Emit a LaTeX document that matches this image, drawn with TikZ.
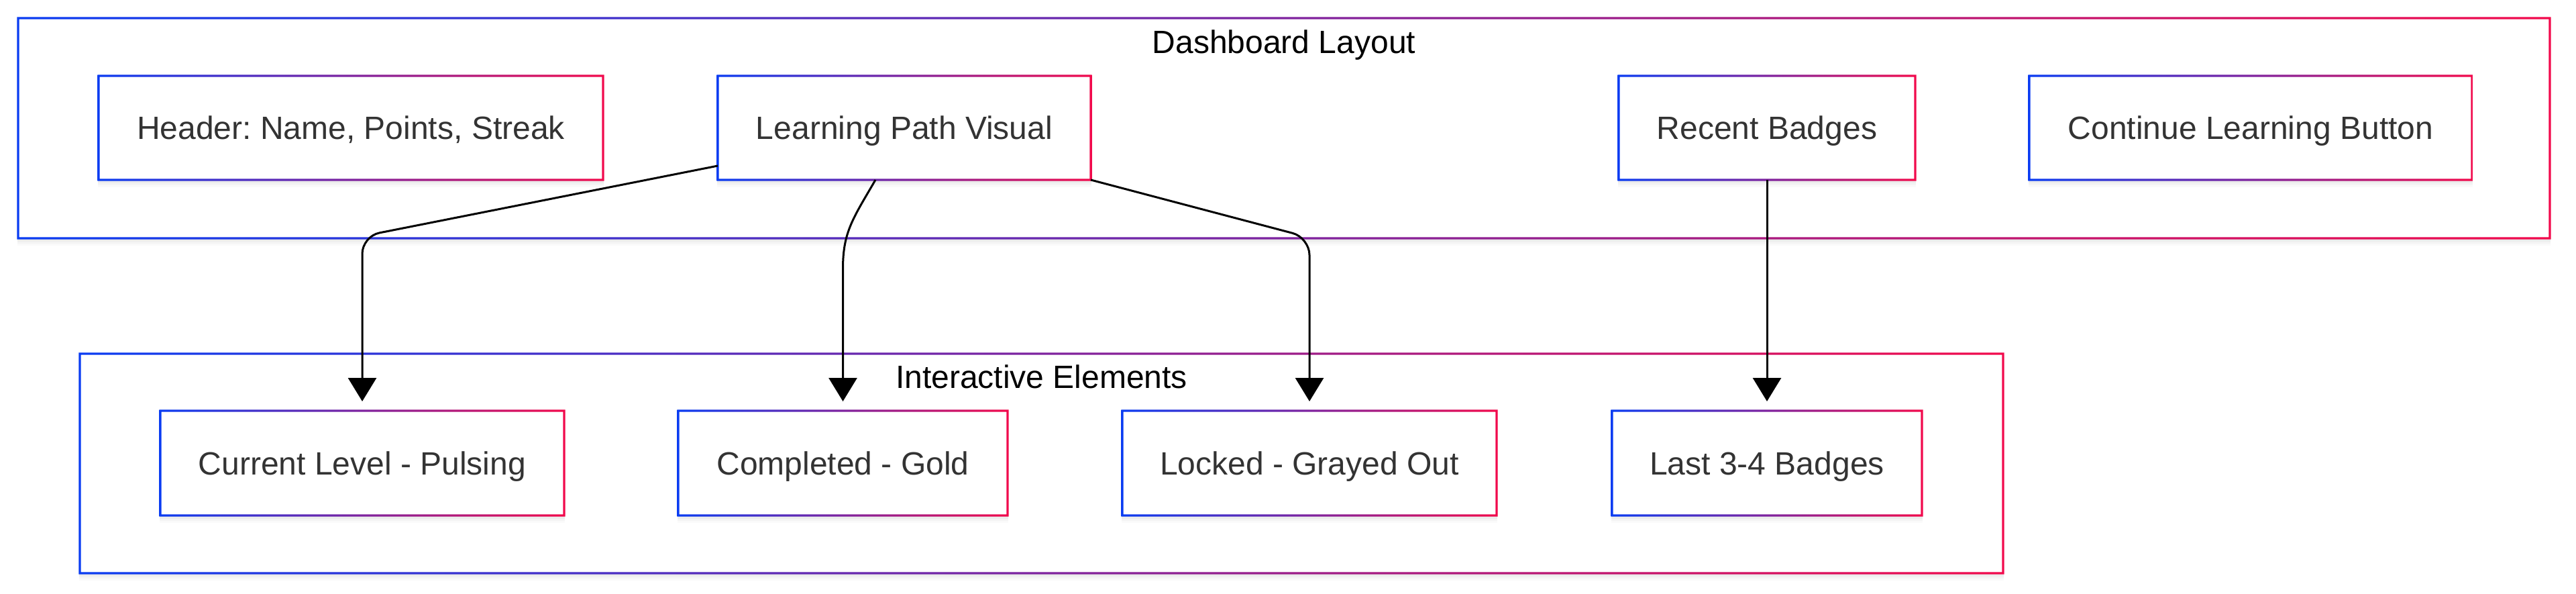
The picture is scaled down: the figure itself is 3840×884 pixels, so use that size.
\documentclass[tikz,border=0pt]{standalone}
\usepackage{fontspec}
\setmainfont{Liberation Sans}
\usetikzlibrary{arrows.meta}
\definecolor{gblue}{HTML}{0A3CF2}
\definecolor{gred}{HTML}{F20A4C}
\definecolor{txt}{HTML}{333333}
\pgfdeclarelayer{bg}
\pgfdeclarelayer{back}
\pgfdeclarelayer{mid}
\pgfsetlayers{bg,back,mid,main}
\frenchspacing
\newcommand\gframe[1]{%
  \shade[left color=gblue,right color=gred,even odd rule]
    ([shift={(-1.6pt,1.6pt)}]#1.north west) rectangle ([shift={(1.6pt,-1.6pt)}]#1.south east)
    ([shift={(1.6pt,-1.6pt)}]#1.north west) rectangle ([shift={(-1.6pt,1.6pt)}]#1.south east);}
\newcommand\softshadow[1]{%
  \foreach \s/\o in {2pt/0.04,5pt/0.03,8pt/0.025,11pt/0.02}{%
    \fill[black,opacity=\o] ([shift={(-1pt,-\s)}]#1.north west) rectangle ([shift={(1pt,-\s)}]#1.south east);}%
  \fill[white] (#1.north west) rectangle (#1.south east);}
\begin{document}
\begin{tikzpicture}[x=1pt,y=-1pt,
  box/.style={rectangle,inner sep=0pt,outer sep=0pt,text=txt,
    font=\fontsize{48}{58}\selectfont,text height=34.4pt,text depth=0pt},
  lowbox/.style={box,minimum height=156pt},
  topbox/.style={box,minimum height=155pt},
  cluster/.style={rectangle,inner sep=0pt,outer sep=0pt},
  ctitle/.style={anchor=base,inner sep=0pt,text=black,font=\fontsize{48}{58}\selectfont},
  conn/.style={line width=3pt,draw=black,-{Triangle[length=35pt,width=42pt]}}]
\useasboundingbox (0,0) rectangle (3840,884);
\begin{pgfonlayer}{bg}
  \fill[white] (0,0) rectangle (3840,884);
\end{pgfonlayer}

% clusters
\node[cluster,minimum width=3774pt,minimum height=328pt] (dash) at (1914,191) {};
\node[cluster,minimum width=2867pt,minimum height=327pt] (inter) at (1552.5,690.5) {};
\node[ctitle] (dashT) at (1914,79) {Dashboard Layout};
\node[ctitle] (interT) at (1552.5,578) {Interactive Elements};

% nodes
\node[topbox,minimum width=752pt] (hdr) at (523,190.5) {Header: Name, Points, Streak};
\node[topbox,minimum width=556pt] (lpv) at (1348,190.5) {Learning Path Visual};
\node[topbox,minimum width=442pt] (rb) at (2634,190.5) {Recent Badges};
\node[topbox,minimum width=660pt] (clb) at (3355,190.5) {Continue Learning Button};
\node[lowbox,minimum width=602pt] (cur) at (540,690) {Current Level - Pulsing};
\node[lowbox,minimum width=491pt] (cg) at (1256.5,690) {Completed - Gold};
\node[lowbox,minimum width=558pt] (lk) at (1952,690) {Locked - Grayed Out};
\node[lowbox,minimum width=462pt] (l34) at (2634,690) {Last 3-4 Badges};

\begin{pgfonlayer}{back}
  \softshadow{dash}\gframe{dash}
  \softshadow{inter}\gframe{inter}
\end{pgfonlayer}
\begin{pgfonlayer}{mid}
  \foreach \n in {hdr,lpv,rb,clb,cur,cg,lk,l34}{\softshadow{\n}}
\end{pgfonlayer}
\foreach \n in {hdr,lpv,rb,clb,cur,cg,lk,l34}{\gframe{\n}}

% connectors
\draw[conn,rounded corners=26pt] (lpv.west |- 0,247) -- (cur.north |- 0,352) -- ([yshift=14pt]cur.north);
\draw[conn] (lpv.south -| 1305,0) .. controls (1272,325) and (1256.5,345) .. (cg.north |- 0,400) -- ([yshift=14pt]cg.north);
\draw[conn,rounded corners=26pt] (lpv.south east) -- (lk.north |- 0,354) -- ([yshift=14pt]lk.north);
\draw[conn] (rb.south) -- ([yshift=14pt]l34.north);
\end{tikzpicture}
\end{document}
